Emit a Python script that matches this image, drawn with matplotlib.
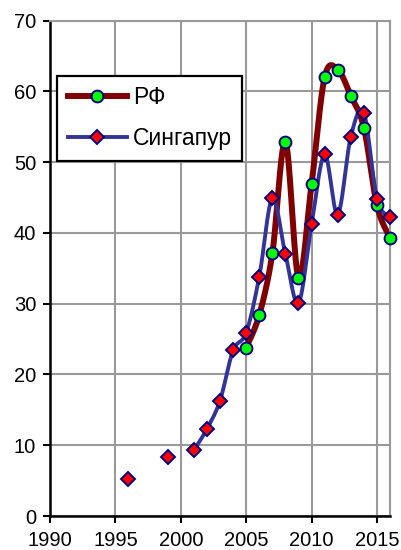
import numpy as np
import matplotlib.pyplot as plt

plt.rcParams['font.family'] = ['Liberation Sans', 'DejaVu Sans']

# данные
years_rf = [2005, 2006, 2007, 2008, 2009, 2010, 2011, 2012, 2013, 2014, 2015, 2016]
rf = [23.8, 28.4, 37.1, 52.9, 33.7, 46.9, 62.0, 63.1, 59.4, 54.9, 43.9, 39.3]

years_sg = [1996, 1999, 2001, 2002, 2003, 2004, 2005, 2006, 2007, 2008, 2009,
            2010, 2011, 2012, 2013, 2014, 2015, 2016]
sg = [5.3, 8.4, 9.3, 12.3, 16.3, 23.4, 25.9, 33.8, 44.9, 37.0, 30.1,
      41.2, 51.1, 42.6, 53.6, 57.0, 44.8, 42.3]
sg_line_from = 2001  # линия рисуется только с 2001 г. (пропуски раньше)


def smooth(x, y, n=30):
    # сглаживание как в Excel (Catmull-Rom / Bezier)
    x = np.asarray(x, float); y = np.asarray(y, float)
    px = np.concatenate([[x[0]], x, [x[-1]]])
    py = np.concatenate([[y[0]], y, [y[-1]]])
    xs, ys = [], []
    t = np.linspace(0, 1, n)
    for i in range(1, len(px) - 2):
        p0 = np.array([px[i], py[i]])
        p3 = np.array([px[i + 1], py[i + 1]])
        p1 = p0 + (np.array([px[i + 1], py[i + 1]]) - np.array([px[i - 1], py[i - 1]])) / 6
        p2 = p3 - (np.array([px[i + 2], py[i + 2]]) - np.array([px[i], py[i]])) / 6
        b = ((1 - t) ** 3)[:, None] * p0 + (3 * (1 - t) ** 2 * t)[:, None] * p1 \
            + (3 * (1 - t) * t ** 2)[:, None] * p2 + (t ** 3)[:, None] * p3
        xs.extend(b[:, 0]); ys.extend(b[:, 1])
    return np.array(xs), np.array(ys)


fig = plt.figure(figsize=(4.01, 5.5), dpi=100)
ax = fig.add_axes([0.1247, 0.0618, 0.9726 - 0.1247, 0.9624 - 0.0618])

rx, ry = smooth(years_rf, rf)
ax.plot(rx, ry, color='#800000', lw=4.3, zorder=2, solid_capstyle='round')
k = years_sg.index(sg_line_from)
sx, sy = smooth(years_sg[k:], sg[k:])
ax.plot(sx, sy, color='#333399', lw=2.8, zorder=3)

ax.plot(years_rf, rf, 'o', ms=8.5, mfc='#00ff00', mec='#000080', mew=1.4, zorder=4, clip_on=False)
ax.plot(years_sg, sg, 'D', ms=7.3, mfc='#ff0000', mec='#000080', mew=1.4, zorder=5, clip_on=False)

# легенда
h1, = ax.plot([], [], color='#800000', lw=4.3, marker='o', ms=8.5, mfc='#00ff00', mec='#000080', mew=1.4)
h2, = ax.plot([], [], color='#333399', lw=2.8, marker='D', ms=7.3, mfc='#ff0000', mec='#000080', mew=1.4)
leg = ax.legend([h1, h2], ['РФ', 'Сингапур'], loc='upper left', bbox_to_anchor=(0.0215, 0.889),
                fontsize=16.5, handlelength=2.6, labelspacing=0.8, handletextpad=0.25,
                borderpad=0.45, borderaxespad=0, fancybox=False, framealpha=1)
leg.get_frame().set_edgecolor('black')
leg.get_frame().set_linewidth(1.6)

ax.set_xlim(1990, 2016)
ax.set_ylim(0, 70)
ax.set_xticks(range(1990, 2016, 5))
ax.set_yticks(range(0, 71, 10))
ax.grid(True, color='#999999', lw=1.5)
ax.set_axisbelow(True)
ax.tick_params(labelsize=14.5, length=5, width=1.5, direction='out')
ax.tick_params(axis='x', pad=6)
ax.tick_params(axis='y', pad=5)
ax.spines['left'].set_linewidth(1.8)
ax.spines['bottom'].set_linewidth(1.8)
ax.spines['top'].set_color('#999999')
ax.spines['right'].set_color('#999999')
ax.spines['top'].set_linewidth(1.5)
ax.spines['right'].set_linewidth(1.5)

fig.savefig('out.png', dpi=100)
